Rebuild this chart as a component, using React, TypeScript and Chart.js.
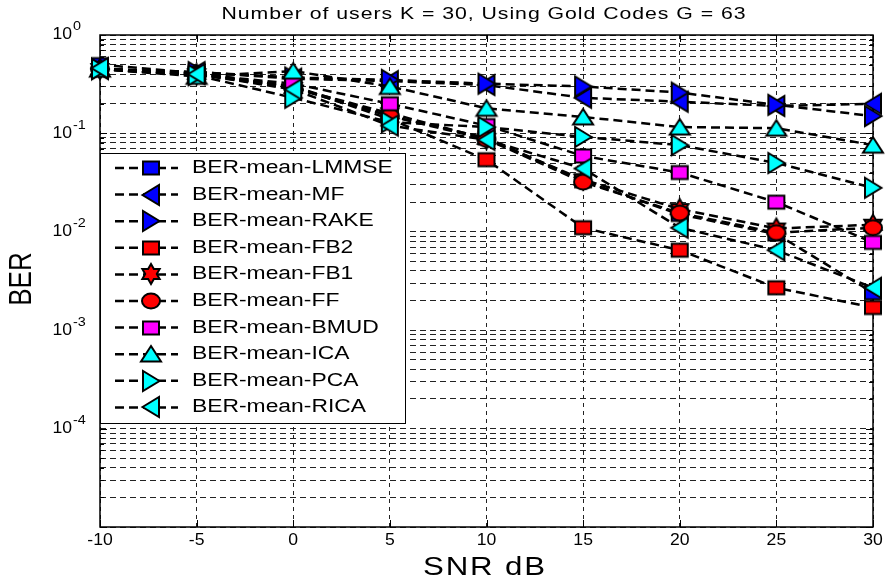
import React, { useEffect, useRef } from 'react';
import { Chart, registerables } from 'chart.js';

Chart.register(...registerables);

// ---------------- data ----------------
const snrDb = [-10, -5, 0, 5, 10, 15, 20, 25, 30];

const berLMMSE = [0.5, 0.41, 0.3, 0.15, 0.09, 0.033, 0.015, 0.0095, 0.0024];
const berMF = [0.45, 0.42, 0.36, 0.34, 0.31, 0.23, 0.21, 0.19, 0.2];
const berRAKE = [0.45, 0.42, 0.37, 0.35, 0.32, 0.3, 0.26, 0.195, 0.15];
const berFB2 = [0.45, 0.4, 0.3, 0.14, 0.054, 0.011, 0.0065, 0.0027, 0.0017];
const berFB1 = [0.45, 0.4, 0.29, 0.16, 0.088, 0.034, 0.017, 0.0108, 0.0118];
const berFF = [0.45, 0.4, 0.29, 0.15, 0.087, 0.032, 0.0155, 0.0098, 0.011];
const berBMUD = [0.45, 0.4, 0.32, 0.2, 0.12, 0.059, 0.04, 0.02, 0.0078];
const berICA = [0.45, 0.38, 0.43, 0.3, 0.18, 0.147, 0.116, 0.113, 0.076];
const berPCA = [0.45, 0.39, 0.23, 0.13, 0.116, 0.092, 0.076, 0.05, 0.028];
const berRICA = [0.46, 0.4, 0.28, 0.12, 0.086, 0.044, 0.011, 0.0065, 0.0027];

const seriesNames = [
  'BER-mean-LMMSE',
  'BER-mean-MF',
  'BER-mean-RAKE',
  'BER-mean-FB2',
  'BER-mean-FB1',
  'BER-mean-FF',
  'BER-mean-BMUD',
  'BER-mean-ICA',
  'BER-mean-PCA',
  'BER-mean-RICA',
];
const seriesValues = [berLMMSE, berMF, berRAKE, berFB2, berFB1, berFF, berBMUD, berICA, berPCA, berRICA];

const xTicks = [-10, -5, 0, 5, 10, 15, 20, 25, 30];
const yMajorExponents = [0, -1, -2, -3, -4];
const yGridDecades = [-5, -4, -3, -2, -1];
const yGridMantissas = [1, 2, 3, 4, 5, 6, 7, 8, 9];

const titleText = 'Number of users K = 30, Using Gold Codes G = 63';
const xTitleText = 'SNR dB';
const yTitleText = 'BER';

// ---------------- styles ----------------
const markerShapes = ['square', 'left', 'right', 'square', 'hexagram', 'circle', 'square', 'up', 'right', 'left'];
const markerColors = ['#0000ff', '#0000ff', '#0000ff', '#ff0000', '#ff0000', '#ff0000', '#ff00ff', '#00ffff', '#00ffff', '#00ffff'];
const FONT = '"Liberation Sans", Arial, Helvetica, sans-serif';

function makeMarker(shape: string, fill: string): HTMLCanvasElement {
  const c = document.createElement('canvas');
  const W = 28;
  const H = 28;
  c.width = W;
  c.height = H;
  const ctx = c.getContext('2d')!;
  const cx = W / 2;
  const cy = H / 2;
  ctx.beginPath();
  if (shape === 'square') {
    ctx.rect(cx - 8, cy - 6.5, 16, 13);
  } else if (shape === 'circle') {
    ctx.ellipse(cx, cy, 9, 7.5, 0, 0, Math.PI * 2);
  } else if (shape === 'up') {
    ctx.moveTo(cx, cy - 8);
    ctx.lineTo(cx + 10, cy + 7.5);
    ctx.lineTo(cx - 10, cy + 7.5);
    ctx.closePath();
  } else if (shape === 'left') {
    ctx.moveTo(cx - 8.5, cy);
    ctx.lineTo(cx + 8, cy - 10);
    ctx.lineTo(cx + 8, cy + 10);
    ctx.closePath();
  } else if (shape === 'right') {
    ctx.moveTo(cx + 8.5, cy);
    ctx.lineTo(cx - 8, cy - 10);
    ctx.lineTo(cx - 8, cy + 10);
    ctx.closePath();
  } else if (shape === 'hexagram') {
    const R = 10;
    const r = R / Math.sqrt(3);
    for (let k = 0; k < 12; k++) {
      const a = -Math.PI / 2 + (k * Math.PI) / 6;
      const rr = k % 2 === 0 ? R : r;
      const px = cx + rr * Math.cos(a);
      const py = cy + rr * Math.sin(a);
      if (k === 0) ctx.moveTo(px, py);
      else ctx.lineTo(px, py);
    }
    ctx.closePath();
  }
  ctx.fillStyle = fill;
  ctx.fill();
  ctx.lineWidth = 2;
  ctx.lineJoin = 'miter';
  ctx.strokeStyle = '#000';
  ctx.stroke();
  return c;
}

function drawText(
  ctx: CanvasRenderingContext2D,
  text: string,
  x: number,
  y: number,
  size: number,
  sx: number,
  align: 'left' | 'center' | 'right',
  targetW?: number
) {
  ctx.save();
  ctx.font = `${size}px ${FONT}`;
  (ctx as any).letterSpacing = '0px';
  ctx.textBaseline = 'middle';
  ctx.textAlign = 'left';
  const w0 = ctx.measureText(text).width;
  let spacing = 0;
  if (targetW) {
    spacing = Math.max(0, (targetW / sx - w0) / text.length);
    (ctx as any).letterSpacing = `${spacing}px`;
  }
  const w = (w0 + spacing * text.length) * sx;
  const x0 = align === 'left' ? x : align === 'center' ? x - w / 2 : x - w;
  ctx.translate(x0, y);
  ctx.scale(sx, 1);
  ctx.fillStyle = '#000';
  ctx.fillText(text, 0, 0);
  ctx.restore();
}

export default function App() {
  const ref = useRef<HTMLCanvasElement>(null);

  useEffect(() => {
    document.body.style.margin = '0';
    const markers = markerShapes.map((s, i) => makeMarker(s, markerColors[i]));

    const decor = {
      id: 'decor',
      beforeDatasetsDraw(chart: any) {
        const { ctx, chartArea } = chart;
        const { left, right, top, bottom } = chartArea;
        const xs = chart.scales.x;
        const ys = chart.scales.y;
        ctx.save();
        ctx.strokeStyle = '#000';
        ctx.lineWidth = 1;
        ctx.setLineDash([]);
        ctx.beginPath();
        xTicks.forEach((v) => {
          const px = Math.round(xs.getPixelForValue(v)) + 0.5;
          ctx.moveTo(px, bottom);
          ctx.lineTo(px, bottom - 7);
          ctx.moveTo(px, top);
          ctx.lineTo(px, top + 7);
        });
        yGridDecades.forEach((e) => {
          yGridMantissas.forEach((m) => {
            const py = Math.round(ys.getPixelForValue(m * Math.pow(10, e))) + 0.5;
            const len = m === 1 ? 7 : 4;
            ctx.moveTo(left, py);
            ctx.lineTo(left + len, py);
            ctx.moveTo(right, py);
            ctx.lineTo(right - len, py);
          });
        });
        ctx.stroke();
        ctx.lineWidth = 1.5;
        ctx.strokeRect(left, top, right - left, bottom - top);
        ctx.restore();
      },
      afterDraw(chart: any) {
        const { ctx } = chart;
        const xs = chart.scales.x;
        const ys = chart.scales.y;

        // title
        drawText(ctx, titleText, 484, 14, 17, 1.25, 'center', 525);
        // x tick labels
        xTicks.forEach((v) => {
          drawText(ctx, String(v), xs.getPixelForValue(v), 541, 16, 1.1, 'center');
        });
        // y tick labels
        yMajorExponents.forEach((e) => {
          const py = ys.getPixelForValue(Math.pow(10, e));
          drawText(ctx, '10', 72, py, 16, 1.1, 'right');
          drawText(ctx, String(e), 73, py - 8, 12, 1.2, 'left');
        });
        // axis titles
        drawText(ctx, xTitleText, 485, 568, 26, 1.2, 'center', 124);
        ctx.save();
        ctx.translate(22, 279);
        ctx.rotate(-Math.PI / 2);
        ctx.scale(1, 1.24);
        ctx.font = `26px ${FONT}`;
        ctx.textAlign = 'center';
        ctx.textBaseline = 'middle';
        ctx.fillStyle = '#000';
        ctx.fillText(yTitleText, 0, 0);
        ctx.restore();

        // legend
        const bx = 100;
        const by = 153;
        const bw = 305;
        const bh = 270;
        ctx.save();
        ctx.fillStyle = '#fff';
        ctx.fillRect(bx, by, bw, bh);
        ctx.strokeStyle = '#000';
        ctx.lineWidth = 1;
        ctx.strokeRect(bx + 0.5, by + 0.5, bw, bh);
        seriesNames.forEach((name, i) => {
          const y = 168 + i * 26.6;
          ctx.save();
          ctx.strokeStyle = '#000';
          ctx.lineWidth = 2.5;
          ctx.setLineDash([9, 5]);
          ctx.beginPath();
          ctx.moveTo(115, y);
          ctx.lineTo(178, y);
          ctx.stroke();
          ctx.restore();
          const mk = markers[i];
          ctx.drawImage(mk, 151 - mk.width / 2, Math.round(y) - mk.height / 2);
          drawText(ctx, name, 192, y, 18, 1.27, 'left');
        });
        ctx.restore();
      },
    };

    const gridTicks = [
      ...yGridDecades.flatMap((e) => yGridMantissas.map((m) => m * Math.pow(10, e))),
      Math.pow(10, yMajorExponents[0]),
    ];

    const chart = new Chart(ref.current!, {
      type: 'line',
      data: {
        datasets: seriesNames.map((name, i) => ({
          label: name,
          data: snrDb.map((x, j) => ({ x, y: seriesValues[i][j] })),
          borderColor: '#000',
          borderWidth: 2.5,
          borderDash: [9, 5],
          backgroundColor: markerColors[i],
          pointStyle: markers[i] as any,
          pointRadius: 10,
          pointHoverRadius: 10,
          tension: 0,
          fill: false,
          clip: false as any,
          order: seriesNames.length - i,
        })),
      },
      options: {
        responsive: false,
        animation: false,
        events: [],
        layout: { padding: { top: 35, right: 14, left: 0, bottom: 0 } },
        plugins: {
          legend: { display: false },
          tooltip: { enabled: false },
          title: { display: false },
        },
        scales: {
          x: {
            type: 'linear',
            min: -10,
            max: 30,
            afterBuildTicks: (s: any) => {
              s.ticks = xTicks.map((v) => ({ value: v }));
            },
            afterFit: (s: any) => {
              s.height = 59;
            },
            ticks: { display: false },
            grid: { color: '#222', lineWidth: 1, drawTicks: false },
            border: { display: false, dash: [4, 4] },
          },
          y: {
            type: 'logarithmic',
            min: 1e-5,
            max: 1,
            afterBuildTicks: (s: any) => {
              s.ticks = gridTicks.map((v) => ({ value: v }));
            },
            afterFit: (s: any) => {
              s.width = 100;
            },
            ticks: { display: false },
            grid: { color: '#222', lineWidth: 1, drawTicks: false },
            border: { display: false, dash: [6, 4] },
          },
        },
      },
      plugins: [decor],
    } as any);

    return () => chart.destroy();
  }, []);

  return (
    <div style={{ width: 887, height: 586 }}>
      <canvas ref={ref} width={887} height={586} style={{ display: 'block' }} />
    </div>
  );
}
